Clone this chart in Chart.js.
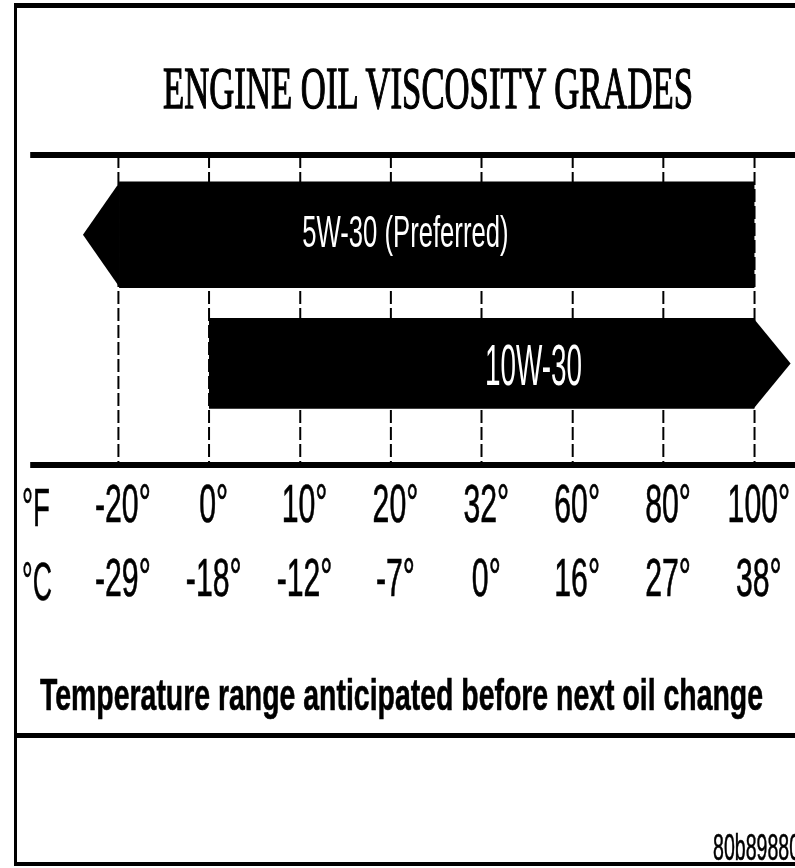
<!DOCTYPE html>
<html><head><meta charset="utf-8">
<script src="https://cdn.jsdelivr.net/npm/chart.js@4.4.1/dist/chart.umd.min.js"></script>
<style>
html,body{margin:0;padding:0;background:#fff;overflow:hidden;width:795px;height:868px}
#page{position:relative;width:795px;height:868px;overflow:hidden;background:#fff}
#wrap{position:absolute;left:0;top:0;width:795px;height:868px;overflow:hidden}
#c{position:absolute;left:0;top:0}
.t{position:absolute;white-space:nowrap;line-height:1;transform-origin:0 0;color:#000;display:inline-block}
.rule{position:absolute;background:#000}
</style></head><body>
<div id="page">
  <div id="wrap"><canvas id="c" width="1395" height="868"></canvas></div>
  <div class="t fit" data-w="530" style="left:163px;top:54px;font:60px 'Liberation Serif',serif;-webkit-text-stroke:1.4px #000">ENGINE OIL VISCOSITY GRADES</div>
  <div class="t fit" data-w="28" style="left:22px;top:477px;font:53px 'Liberation Sans',Arial,sans-serif;-webkit-text-stroke:0.5px #000">°F</div>
  <div class="t fit" data-w="30" style="left:22px;top:551px;font:53px 'Liberation Sans',Arial,sans-serif;-webkit-text-stroke:0.5px #000">°C</div>
  <div class="t fit" data-w="723" style="left:40px;top:669px;font:bold 45px 'Liberation Sans',Arial,sans-serif;-webkit-text-stroke:0.6px #000">Temperature range anticipated before next oil change</div>
  <div class="rule" style="left:17px;top:733px;width:778px;height:5px"></div>
  <div class="t fit" data-w="87" style="left:713px;top:827px;font:36px 'Liberation Sans',Arial,sans-serif;-webkit-text-stroke:0.6px #000">80b89880</div>
  <div class="rule" style="left:14px;top:3px;width:781px;height:5px"></div>
  <div class="rule" style="left:14px;top:3px;width:3px;height:863px"></div>
  <div class="rule" style="left:14px;top:862px;width:781px;height:4px"></div>
</div>
<script>
// ---- data ----
const fValues    = [-20, 0, 10, 20, 32, 60, 80, 100];
const fahrenheit = ['-20°', '0°', '10°', '20°', '32°', '60°', '80°', '100°'];
const celsius    = ['-29°', '-18°', '-12°', '-7°', '0°', '16°', '27°', '38°'];
const grades     = ['5W-30 (Preferred)', '10W-30'];
const lowF       = [-20, 0];
const highF      = [100, 100];
const openSide   = ['left', 'right'];
const rows       = [1, 2];

// ---- style ----
const SX = 0.57; // horizontal condensing of the drawing
const style = {
  barColor: '#000',
  thickness: [106, 90],
  arrowDepth: 0.4,
  label: [
    { pos: 3.16, size: 45, width: 209, dy: -4 },
    { pos: 4.57, size: 58, width: 97, dy: 1 }
  ]
};
const SANS = "'Liberation Sans', Arial, sans-serif";
const idx = f => fValues.indexOf(f);

const condense = {
  id: 'condense',
  beforeDraw(c) { c.ctx.save(); c.ctx.scale(SX, 1); },
  afterDraw(c) { c.ctx.restore(); }
};

const arrows = {
  id: 'arrows',
  afterDatasetsDraw(c) {
    const ctx = c.ctx, xs = c.scales.x;
    const depth = xs.getPixelForValue(style.arrowDepth) - xs.getPixelForValue(0);
    c.data.datasets.forEach((ds, i) => {
      const el = c.getDatasetMeta(i).data[0];
      if (!el) return;
      const p = el.getProps(['x', 'y', 'base', 'height'], true);
      const l = Math.min(p.x, p.base), r = Math.max(p.x, p.base);
      const t = p.y - p.height / 2, b = p.y + p.height / 2;
      ctx.save();
      ctx.fillStyle = style.barColor;
      ctx.beginPath();
      if (ds.open === 'left') {
        ctx.moveTo(l + 1, t); ctx.lineTo(l - depth, p.y); ctx.lineTo(l + 1, b);
      } else {
        ctx.moveTo(r - 1, t); ctx.lineTo(r + depth, p.y); ctx.lineTo(r - 1, b);
      }
      ctx.closePath(); ctx.fill();
      const L = style.label[i];
      ctx.fillStyle = '#fff';
      ctx.font = L.size + 'px ' + SANS;
      ctx.textAlign = 'center';
      ctx.textBaseline = 'alphabetic';
      ctx.fillText(ds.label, xs.getPixelForValue(L.pos), p.y + 0.716 * L.size / 2 + L.dy, L.width / SX);
      ctx.restore();
    });
  }
};

new Chart(document.getElementById('c'), {
  type: 'bar',
  data: {
    datasets: grades.map((g, i) => ({
      label: g,
      data: [{ x: [idx(lowF[i]), idx(highF[i])], y: rows[i] }],
      backgroundColor: style.barColor,
      borderWidth: 0,
      grouped: false,
      barThickness: style.thickness[i],
      open: openSide[i]
    }))
  },
  options: {
    indexAxis: 'y',
    responsive: false,
    devicePixelRatio: 1,
    animation: false,
    events: [],
    layout: { padding: { left: 32 / SX, top: 155, right: 0, bottom: 0 } },
    plugins: { legend: { display: false }, tooltip: { enabled: false }, title: { display: false } },
    scales: {
      x: {
        type: 'linear', position: 'bottom', min: -0.95, max: 7.45,
        afterBuildTicks: s => { s.ticks = fahrenheit.map((_, i) => ({ value: i })); },
        afterFit: s => { s.height = 403; },
        ticks: {
          autoSkip: false, maxRotation: 0, minRotation: 0, padding: 5, labelOffset: 8,
          color: '#000', textStrokeColor: '#000', textStrokeWidth: 0.7,
          font: { family: SANS, size: 53, lineHeight: 74 / 53 },
          callback: (v, i) => [fahrenheit[i], celsius[i]]
        },
        grid: { color: '#000', lineWidth: 3.5, drawTicks: false },
        border: { display: true, color: '#000', width: 6, dash: [13, 4] }
      },
      x2: {
        type: 'linear', position: 'top', min: -0.95, max: 7.45,
        ticks: { display: false },
        grid: { display: false, drawTicks: false },
        border: { display: true, color: '#000', width: 6 }
      },
      y: {
        type: 'linear', reverse: true, min: 0.38, max: 2.79, offset: false, display: false,
        afterBuildTicks: s => { s.ticks = rows.map(v => ({ value: v })); }
      }
    }
  },
  plugins: [condense, arrows]
});

function fit() {
  document.querySelectorAll('.fit').forEach(el => {
    el.style.transform = 'none';
    const w = el.getBoundingClientRect().width;
    if (w > 0) el.style.transform = 'scaleX(' + (Number(el.dataset.w) / w) + ')';
  });
}
fit();
if (document.fonts && document.fonts.ready) document.fonts.ready.then(fit);
</script>
</body></html>
